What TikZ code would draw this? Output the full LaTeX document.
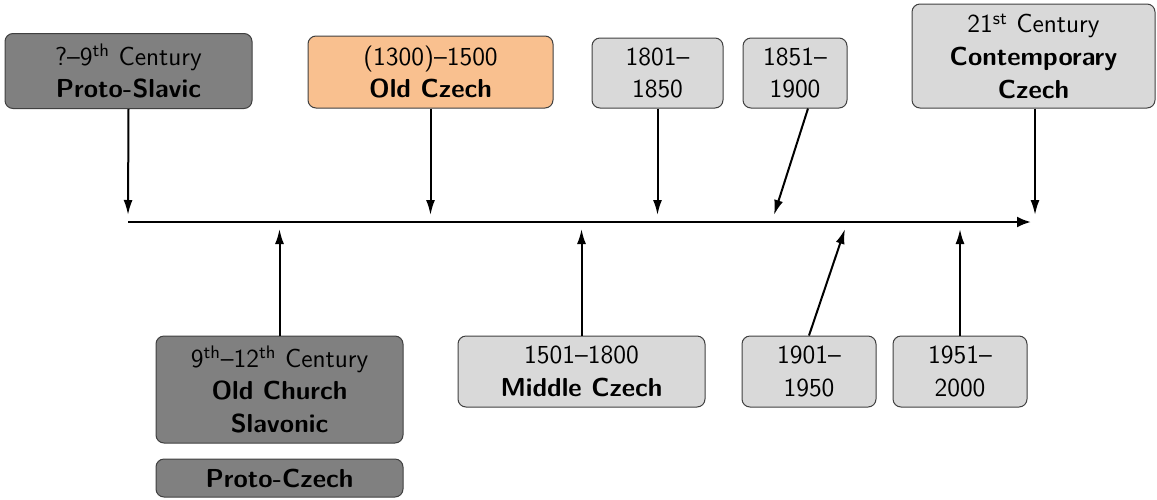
\documentclass[tikz,border=0pt]{standalone}
\usepackage{fontspec}
\usetikzlibrary{arrows.meta}
\definecolor{darkbox}{HTML}{808080}
\definecolor{lightbox}{HTML}{D9D9D9}
\definecolor{orangebox}{HTML}{F9C08F}
\definecolor{boxedge}{HTML}{404040}
\tikzset{
  period/.style={rectangle, rounded corners=4pt, draw=boxedge, line width=0.5pt,
    inner sep=0pt, align=center, font=\sffamily\fontsize{13}{16.3}\selectfont},
  darkp/.style={period, fill=darkbox},
  lightp/.style={period, fill=lightbox},
  orangep/.style={period, fill=orangebox},
  conn/.style={line width=1pt, -{Latex[length=7.5pt,width=4.5pt]}},
  axisline/.style={line width=1.2pt, -{Latex[length=7pt,width=5.5pt]}}
}
\begin{document}
\begin{tikzpicture}[x=0.5pt,y=-0.5pt]
\useasboundingbox (0,0) rectangle (1157,499);
% top boxes
\node[darkp, minimum width=123.5pt, minimum height=37.5pt] (ps) at (128.5,71)
  {?--9\textsuperscript{th} Century\\\bfseries Proto-Slavic};
\node[orangep, minimum width=122.5pt, minimum height=36pt] (oc) at (430.5,72)
  {(1300)--1500\\\bfseries Old Czech};
\node[lightp, minimum width=65.5pt, minimum height=35pt] (a1801) at (657.5,73)
  {1801--\\1850};
\node[lightp, minimum width=52pt, minimum height=35pt] (a1851) at (795,73)
  {1851--\\1900};
\node[lightp, minimum width=121.5pt, minimum height=52pt] (cc) at (1033.5,56)
  {21\textsuperscript{st} Century\\\bfseries Contemporary\\\bfseries Czech};
% bottom boxes
\node[darkp, minimum width=123.5pt, minimum height=53.5pt] (ocs) at (279.5,389.5)
  {9\textsuperscript{th}--12\textsuperscript{th} Century\\\bfseries Old Church\\\bfseries Slavonic};
\node[darkp, minimum width=123.5pt, minimum height=19pt] (pc) at (279.5,478)
  {\bfseries Proto-Czech};
\node[lightp, minimum width=123.5pt, minimum height=35.5pt] (mc) at (581.5,371.5)
  {1501--1800\\\bfseries Middle Czech};
\node[lightp, minimum width=67pt, minimum height=35.5pt] (a1901) at (809,371.5)
  {1901--\\1950};
\node[lightp, minimum width=67pt, minimum height=35.5pt] (a1951) at (960,371.5)
  {1951--\\2000};
% axis
\coordinate (axs) at (128,222);
\coordinate (axe) at (1031,222);
\draw[axisline] (axs) -- (axe);
% free ends
\coordinate (tps) at (128,215);
\coordinate (toc) at (430.5,215);
\coordinate (t1801) at (657.5,215);
\coordinate (t1851) at (774,215);
\coordinate (tcc) at (1035,215);
\coordinate (tocs) at (279.5,229);
\coordinate (tmc) at (581.5,229);
\coordinate (t1901) at (845,229);
\coordinate (t1951) at (960,229);
\coordinate (s1851) at (808,108);
\draw[conn] (ps.south) -- (tps);
\draw[conn] (oc.south) -- (toc);
\draw[conn] (a1801.south) -- (t1801);
\draw[conn] (a1851.south -| s1851) -- (t1851);
\draw[conn] (cc.south -| tcc) -- (tcc);
\draw[conn] (ocs.north) -- (tocs);
\draw[conn] (mc.north) -- (tmc);
\draw[conn] (a1901.north) -- (t1901);
\draw[conn] (a1951.north) -- (t1951);
\end{tikzpicture}
\end{document}
